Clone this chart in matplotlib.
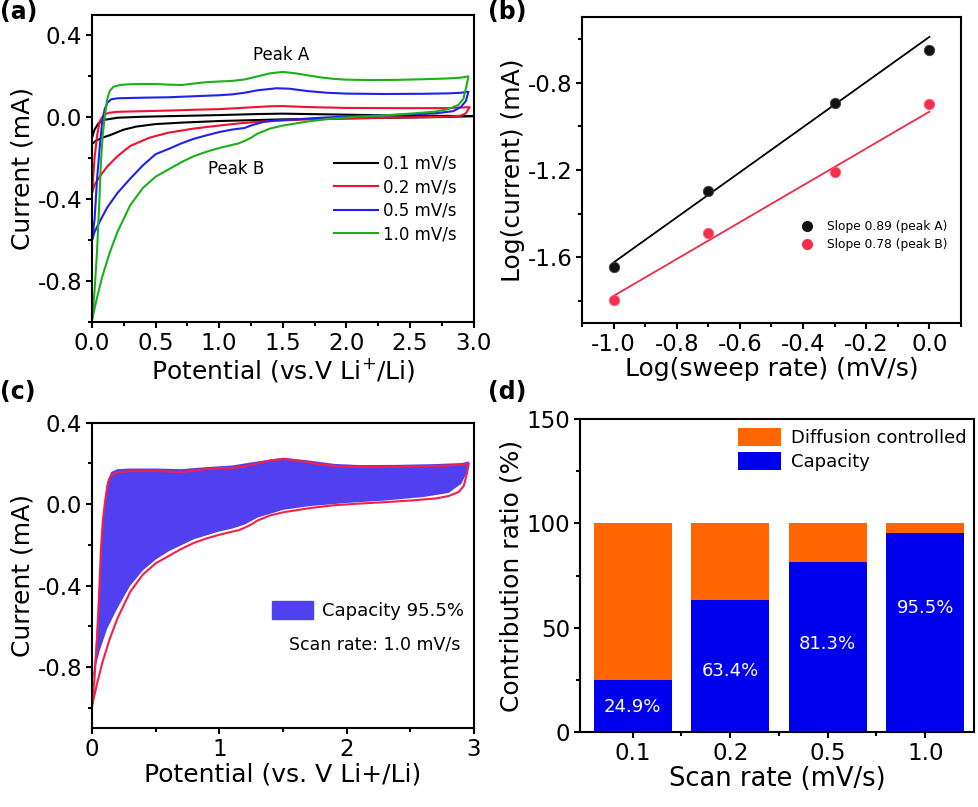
import matplotlib
matplotlib.use("Agg")
import matplotlib.pyplot as plt
import numpy as np
from matplotlib.ticker import MultipleLocator
from matplotlib.patches import Patch
from matplotlib.lines import Line2D

plt.rcParams['font.family'] = ['DejaVu Sans']
plt.rcParams['mathtext.fontset'] = 'dejavusans'
plt.rcParams['axes.linewidth'] = 1.5

# ---- (a) CV curves at different scan rates ----
# 0.1 mV/s
v01_up = [0.0, 0.02, 0.05, 0.1, 0.2, 0.4, 0.7, 1.0, 1.3, 1.5, 1.8, 2.2, 2.6, 3.0]
i01_up = [-0.1, -0.06, -0.03, -0.012, -0.002, 0.003, 0.007, 0.011, 0.016, 0.018, 0.015, 0.011, 0.008, 0.006]
v01_dn = [3.0, 2.8, 2.5, 2.0, 1.5, 1.0, 0.7, 0.5, 0.35, 0.25, 0.15, 0.08, 0.03, 0.0]
i01_dn = [0.006, 0.002, -0.001, -0.005, -0.01, -0.018, -0.026, -0.033, -0.045, -0.06, -0.085, -0.1, -0.115, -0.13]
# 0.2 mV/s
v02_up = [0.0, 0.02, 0.04, 0.06, 0.09, 0.13, 0.2, 0.4, 0.6, 0.8, 1.0, 1.2, 1.4, 1.5, 1.7, 2.0, 2.4, 2.8, 2.97]
i02_up = [-0.37, -0.2, -0.09, -0.02, 0.01, 0.022, 0.027, 0.03, 0.033, 0.037, 0.04, 0.047, 0.054, 0.055, 0.05, 0.046, 0.045, 0.045, 0.05]
v02_dn = [2.97, 2.94, 2.9, 2.8, 2.5, 2.2, 2.0, 1.7, 1.5, 1.3, 1.15, 1.0, 0.8, 0.6, 0.45, 0.3, 0.2, 0.12, 0.06, 0.02, 0.0]
i02_dn = [0.05, 0.02, 0.008, 0.003, 0.0, -0.003, -0.006, -0.01, -0.015, -0.022, -0.03, -0.04, -0.055, -0.075, -0.1, -0.14, -0.19, -0.24, -0.29, -0.33, -0.37]
# 0.5 mV/s
v05_up = [0.0, 0.02, 0.04, 0.06, 0.08, 0.1, 0.12, 0.15, 0.2, 0.4, 0.6, 0.8, 1.0, 1.1, 1.2, 1.3, 1.45, 1.55, 1.7, 1.85, 2.0, 2.3, 2.6, 2.8, 2.9, 2.96]
i05_up = [-0.6, -0.5, -0.3, -0.15, -0.02, 0.04, 0.07, 0.088, 0.093, 0.096, 0.098, 0.103, 0.108, 0.112, 0.12, 0.132, 0.142, 0.14, 0.128, 0.12, 0.116, 0.114, 0.115, 0.117, 0.12, 0.125]
v05_dn = [2.96, 2.94, 2.9, 2.84, 2.7, 2.5, 2.2, 2.0, 1.8, 1.6, 1.45, 1.35, 1.25, 1.2, 1.1, 1.0, 0.9, 0.8, 0.7, 0.6, 0.5, 0.4, 0.3, 0.2, 0.12, 0.06, 0.02, 0.0]
i05_dn = [0.125, 0.08, 0.05, 0.03, 0.02, 0.014, 0.008, 0.004, -0.002, -0.01, -0.015, -0.022, -0.04, -0.052, -0.06, -0.072, -0.088, -0.105, -0.128, -0.155, -0.18, -0.235, -0.3, -0.37, -0.44, -0.51, -0.56, -0.6]
# 1.0 mV/s
v10_up = [0.0, 0.02, 0.04, 0.055, 0.07, 0.085, 0.1, 0.12, 0.14, 0.17, 0.22, 0.3, 0.4, 0.5, 0.6, 0.7, 0.8, 0.9, 1.0, 1.1, 1.2, 1.3, 1.4, 1.5, 1.6, 1.7, 1.8, 1.9, 2.0, 2.2, 2.4, 2.6, 2.8, 2.9, 2.96]
i10_up = [-0.99, -0.85, -0.65, -0.45, -0.22, -0.08, 0.0, 0.09, 0.13, 0.15, 0.158, 0.162, 0.163, 0.163, 0.16, 0.158, 0.165, 0.172, 0.175, 0.178, 0.185, 0.2, 0.215, 0.222, 0.215, 0.205, 0.195, 0.188, 0.184, 0.182, 0.183, 0.186, 0.19, 0.194, 0.2]
v10_dn = [2.96, 2.94, 2.92, 2.88, 2.8, 2.7, 2.5, 2.3, 2.1, 1.9, 1.7, 1.5, 1.4, 1.3, 1.25, 1.2, 1.15, 1.1, 1.0, 0.9, 0.8, 0.7, 0.6, 0.5, 0.4, 0.3, 0.2, 0.14, 0.08, 0.04, 0.0]
i10_dn = [0.2, 0.14, 0.09, 0.06, 0.04, 0.028, 0.018, 0.01, 0.003, -0.005, -0.02, -0.04, -0.055, -0.08, -0.1, -0.115, -0.128, -0.135, -0.15, -0.168, -0.19, -0.22, -0.255, -0.29, -0.345, -0.43, -0.56, -0.66, -0.78, -0.88, -0.99]

rate_labels = ['0.1 mV/s', '0.2 mV/s', '0.5 mV/s', '1.0 mV/s']

# ---- (b) log(current) vs log(sweep rate) ----
log_rate = [-1.0, -0.7, -0.3, 0.0]
log_ia = [-1.646, -1.298, -0.895, -0.650]
log_ib = [-1.796, -1.488, -1.209, -0.898]
fit_x = [-1.0, 0.0]
fit_a = [-1.623, -0.591]
fit_b = [-1.776, -0.933]
slope_labels = ['Slope 0.89 (peak A)', 'Slope 0.78 (peak B)']

# ---- (c) capacitive region at 1.0 mV/s ----
cap_up_v = [0.0, 0.02, 0.04, 0.06, 0.08, 0.1, 0.12, 0.15, 0.2, 0.3, 0.5, 0.7, 0.9, 1.1, 1.3, 1.5, 1.7, 1.9, 2.1, 2.4, 2.7, 2.9, 2.96]
cap_up_i = [-0.88, -0.78, -0.58, -0.34, -0.12, 0.02, 0.11, 0.158, 0.172, 0.175, 0.175, 0.172, 0.182, 0.19, 0.21, 0.228, 0.215, 0.198, 0.192, 0.193, 0.197, 0.202, 0.21]
cap_dn_v = [2.96, 2.94, 2.9, 2.8, 2.6, 2.3, 2.0, 1.7, 1.5, 1.3, 1.2, 1.1, 1.0, 0.8, 0.6, 0.5, 0.4, 0.3, 0.2, 0.12, 0.06, 0.02, 0.0]
cap_dn_i = [0.21, 0.15, 0.1, 0.055, 0.035, 0.018, 0.006, -0.01, -0.028, -0.066, -0.1, -0.12, -0.134, -0.172, -0.232, -0.272, -0.325, -0.4, -0.51, -0.61, -0.72, -0.82, -0.88]

# ---- (d) contribution ratio ----
scan_rates = ['0.1', '0.2', '0.5', '1.0']
capacity = [24.9, 63.4, 81.3, 95.5]
diffusion = [100 - c for c in capacity]
label_y = [12, 29, 42, 59.5]

fig = plt.figure(figsize=(9.79, 8.07), dpi=100)
W, H = 979, 807


def add_ax(l, t, r, b):
    return fig.add_axes([l / W, 1 - b / H, (r - l) / W, (b - t) / H])


def style(ax, fs=16.5):
    ax.tick_params(which='both', direction='out', width=1.5, labelsize=fs, pad=3)
    ax.tick_params(which='major', length=4)
    ax.tick_params(which='minor', length=3)


# (a)
ax = add_ax(92, 15, 473.5, 322)
ax.plot(v01_up + v01_dn, i01_up + i01_dn, color='black', lw=1.5, label=rate_labels[0])
ax.plot(v02_up + v02_dn, i02_up + i02_dn, color='#F01030', lw=1.5, label=rate_labels[1])
ax.plot(v05_up + v05_dn, i05_up + i05_dn, color='#2020F0', lw=1.5, label=rate_labels[2])
ax.plot(v10_up + v10_dn, i10_up + i10_dn, color='#1BB01B', lw=1.5, label=rate_labels[3])
ax.set_xlim(0, 3.0)
ax.set_ylim(-1.0, 0.5)
ax.xaxis.set_major_locator(MultipleLocator(0.5))
ax.xaxis.set_minor_locator(MultipleLocator(0.25))
ax.yaxis.set_major_locator(MultipleLocator(0.4))
ax.yaxis.set_minor_locator(MultipleLocator(0.2))
ax.xaxis.set_major_formatter(lambda v, p: f'{v:.1f}')
ax.yaxis.set_major_formatter(lambda v, p: f'{v:.1f}')
style(ax)
ax.set_xlabel('Potential (vs.V Li$^{+}$/Li)', fontsize=18, labelpad=1)
ax.set_ylabel('Current (mA)', fontsize=18, labelpad=2)
ax.text(1.49, 0.307, 'Peak A', fontsize=12, ha='center', va='center')
ax.text(1.13, -0.25, 'Peak B', fontsize=12, ha='center', va='center')
ax.legend(loc='upper left', bbox_to_anchor=(0.635, 0.545), frameon=False, fontsize=12,
          handlelength=2.6, handletextpad=0.3, labelspacing=0.33, borderpad=0, borderaxespad=0)

# (b)
ax = add_ax(582, 17, 961, 323)
ax.plot(fit_x, fit_a, color='black', lw=1.3)
ax.plot(fit_x, fit_b, color='#F0294A', lw=1.3)
ax.plot(log_rate, log_ia, 'o', color='#111111', ms=7.5, mec='#444444', mew=0.6)
ax.plot(log_rate, log_ib, 'o', color='#F5304F', ms=7.5, mec='#FF6070', mew=0.6)
ax.set_xlim(-1.1, 0.1)
ax.set_ylim(-1.9, -0.5)
ax.xaxis.set_major_locator(MultipleLocator(0.2))
ax.xaxis.set_minor_locator(MultipleLocator(0.1))
ax.set_yticks([-0.8, -1.2, -1.6])
ax.set_yticks([-0.6, -1.0, -1.4, -1.8], minor=True)
ax.xaxis.set_major_formatter(lambda v, p: f'{v:.1f}')
ax.yaxis.set_major_formatter(lambda v, p: f'{v:.1f}')
style(ax)
ax.set_xlabel('Log(sweep rate) (mV/s)', fontsize=18, labelpad=1)
ax.set_ylabel('Log(current) (mA)', fontsize=18, labelpad=2)
handles = [Line2D([], [], ls='', marker='o', color='#111111', ms=7),
           Line2D([], [], ls='', marker='o', color='#F5304F', ms=7)]
ax.legend(handles, slope_labels, loc='upper left', bbox_to_anchor=(0.575, 0.335), frameon=False,
          fontsize=8.8, handlelength=1.2, handletextpad=1.0, labelspacing=0.4, borderpad=0, borderaxespad=0)

# (c)
ax = add_ax(92, 422.7, 474, 728.3)
ax.fill(cap_up_v + cap_dn_v, cap_up_i + cap_dn_i, color='#5040F0', lw=0)
ax.plot(v10_up + v10_dn, i10_up + i10_dn, color='#F5204A', lw=1.5)
ax.set_xlim(0, 3)
ax.set_ylim(-1.1, 0.4)
ax.xaxis.set_major_locator(MultipleLocator(1))
ax.xaxis.set_minor_locator(MultipleLocator(0.5))
ax.yaxis.set_major_locator(MultipleLocator(0.4))
ax.yaxis.set_minor_locator(MultipleLocator(0.2))
ax.yaxis.set_major_formatter(lambda v, p: f'{v:.1f}')
style(ax)
ax.set_xlabel('Potential (vs. V Li+/Li)', fontsize=18, labelpad=1)
ax.set_ylabel('Current (mA)', fontsize=18, labelpad=2)
ax.legend([Patch(color='#5040F0')], ['Capacity 95.5%'], loc='upper left', bbox_to_anchor=(0.47, 0.415),
          frameon=False, fontsize=13, handlelength=2.3, handleheight=1.1, handletextpad=0.5,
          borderpad=0, borderaxespad=0)
ax.text(0.965, 0.275, 'Scan rate: 1.0 mV/s', transform=ax.transAxes, fontsize=12.5, ha='right', va='center')

# (d)
ax = add_ax(580, 419, 974, 732)
x = np.arange(len(scan_rates))
ax.bar(x, capacity, width=0.8, color='#0000EE', label='Capacity')
ax.bar(x, diffusion, width=0.8, bottom=capacity, color='#FF6600', label='Diffusion controlled')
for xi, c, ly in zip(x, capacity, label_y):
    ax.text(xi, ly, f'{c}%', color='white', fontsize=13, ha='center', va='center')
ax.set_xlim(-0.54, 3.5)
ax.set_ylim(0, 150)
ax.set_xticks(x, scan_rates)
ax.set_xticks(x[:-1] + 0.5, minor=True)
ax.yaxis.set_major_locator(MultipleLocator(50))
ax.yaxis.set_minor_locator(MultipleLocator(25))
style(ax)
ax.set_xlabel('Scan rate (mV/s)', fontsize=18.5, labelpad=1)
ax.set_ylabel('Contribution ratio (%)', fontsize=18, labelpad=2)
h, l = ax.get_legend_handles_labels()
ax.legend(h[::-1], l[::-1], loc='upper left', bbox_to_anchor=(0.4, 0.97), frameon=False, fontsize=13,
          handlelength=2.4, handleheight=1.15, handletextpad=0.55, labelspacing=0.25,
          borderpad=0, borderaxespad=0)

# panel letters
for s, px, py in [('(a)', 0, 0), ('(b)', 488, 0), ('(c)', 0, 380), ('(d)', 488, 380)]:
    fig.text(px / W, 1 - py / H, s, fontsize=17, fontweight='bold', ha='left', va='top')

fig.savefig('out.png', dpi=100)
